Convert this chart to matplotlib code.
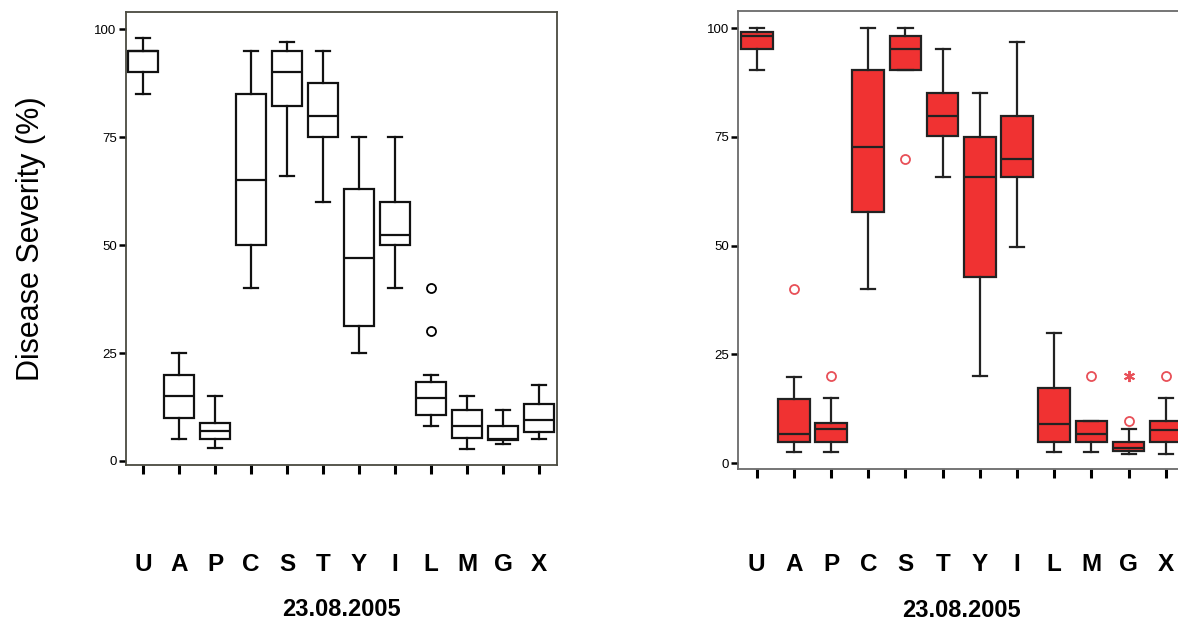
import matplotlib
matplotlib.use('Agg')
import matplotlib.pyplot as plt
from matplotlib import rcParams

# 类别
categories = ['U', 'A', 'P', 'C', 'S', 'T', 'Y', 'I', 'L', 'M', 'G', 'X']
date_label = '23.08.2005'
y_ticks = [0, 25, 50, 75, 100]

# 左图（白色箱体）：下须、Q1、中位数、Q3、上须、离群值
left_low = [85, 5, 3, 40, 66, 60, 25, 40, 8, 2.7, 3.9, 5]
left_q1 = [90, 10, 5, 50, 82.3, 75, 31.3, 50, 10.6, 5.3, 4.9, 6.8]
left_med = [95, 15, 7, 65, 90, 80, 47.1, 52.3, 14.7, 8, 5, 9.5]
left_q3 = [95, 20, 8.7, 85, 95, 87.5, 63, 60, 18.3, 11.7, 8, 13.1]
left_high = [98, 25, 15, 95, 97, 95, 75, 75, 20, 15, 11.8, 17.6]
left_out = [[], [], [], [], [], [], [], [], [40, 30], [], [], []]

# 右图（红色箱体）
right_low = [90.3, 2.7, 2.7, 40, 90.3, 65.8, 20, 49.8, 2.7, 2.7, 2.1, 2.1]
right_q1 = [95.2, 5, 5, 57.7, 90.3, 75.1, 42.8, 65.8, 5, 5, 2.8, 5]
right_med = [98.2, 6.7, 7.9, 72.6, 95.2, 79.8, 65.8, 69.9, 9.0, 6.7, 3.5, 7.7]
right_q3 = [99.2, 14.8, 9.3, 90.3, 98.2, 85, 75, 79.8, 17.2, 9.6, 5, 9.6]
right_high = [100, 19.9, 15, 100, 100, 95.2, 85, 96.9, 29.9, 9.6, 7.8, 15]
right_out = [[], [40], [20], [], [70], [], [], [], [], [20], [9.6], [20]]
right_ext = [[], [], [], [], [], [], [], [], [], [], [20], []]

FONT = ['Liberation Sans', 'DejaVu Sans']


def make_stats(low, q1, med, q3, high):
    return [dict(whislo=a, q1=b, med=c, q3=d, whishi=e, fliers=[])
            for a, b, c, d, e in zip(low, q1, med, q3, high)]


def draw_panel(ax, stats, outliers, face, edge, line_w, frame_color,
               out_color, width, xlim, ylim, xpad):
    pos = list(range(1, len(categories) + 1))
    ax.bxp(stats, positions=pos, widths=width, capwidths=0.38,
           patch_artist=True, showfliers=False,
           boxprops=dict(facecolor=face, edgecolor=edge, linewidth=line_w),
           whiskerprops=dict(color=edge, linewidth=line_w),
           capprops=dict(color=edge, linewidth=line_w),
           medianprops=dict(color=edge, linewidth=line_w))

    # 离群值（空心圆）
    for p, vals in zip(pos, outliers):
        if vals:
            ax.plot([p] * len(vals), vals, linestyle='none', marker='o',
                    markersize=6.5, markerfacecolor='none',
                    markeredgecolor=out_color, markeredgewidth=1.3)

    ax.set_xlim(*xlim)
    ax.set_ylim(*ylim)
    ax.set_yticks(y_ticks)
    ax.set_yticklabels([str(v) for v in y_ticks], fontsize=9.5, family=FONT)
    ax.set_xticks(pos)
    ax.set_xticklabels(categories, fontsize=17.5, fontweight='bold', family=FONT)
    ax.tick_params(axis='x', length=6.5, width=2.2, pad=xpad, color='black')
    ax.tick_params(axis='y', length=5, width=1.8, pad=1.5, color='black')
    ax.set_xlabel(date_label, fontsize=17, fontweight='bold', labelpad=16,
                  family=FONT)
    for s in ax.spines.values():
        s.set_color(frame_color)
        s.set_linewidth(1.3)


def plot_and_save():
    rcParams['font.family'] = FONT

    fig = plt.figure(figsize=(11.78, 6.39), dpi=100)

    # 左图
    ax1 = fig.add_axes([0.1067, 0.2723, 0.3659, 0.7094])
    draw_panel(ax1, make_stats(left_low, left_q1, left_med, left_q3, left_high),
               left_out, 'white', '#111111', 1.6, '#4a4a40', 'black',
               0.82, (0.52, 12.49), (-0.93, 104.08), 57)

    # 右图（右边被裁掉）
    ax2 = fig.add_axes([0.6266, 0.2656, 0.3788, 0.7177])
    draw_panel(ax2, make_stats(right_low, right_q1, right_med, right_q3, right_high),
               right_out, '#f03232', '#222222', 1.6, '#6a6a6a', '#e85058',
               0.85, (0.5, 12.5), (-1.38, 104.0), 54)

    # 极端值（星号）
    for p, vals in zip(range(1, len(categories) + 1), right_ext):
        if vals:
            ax2.plot([p] * len(vals), vals, linestyle='none', marker=(6, 2, 0),
                     markersize=8, markeredgecolor='#e85058', markeredgewidth=1.4)

    # 纵轴标题
    fig.text(0.026, 0.626, 'Disease Severity (%)', rotation=90,
             ha='center', va='center', fontsize=22)

    fig.savefig('out.png', dpi=100)
    plt.close(fig)


if __name__ == '__main__':
    plot_and_save()
